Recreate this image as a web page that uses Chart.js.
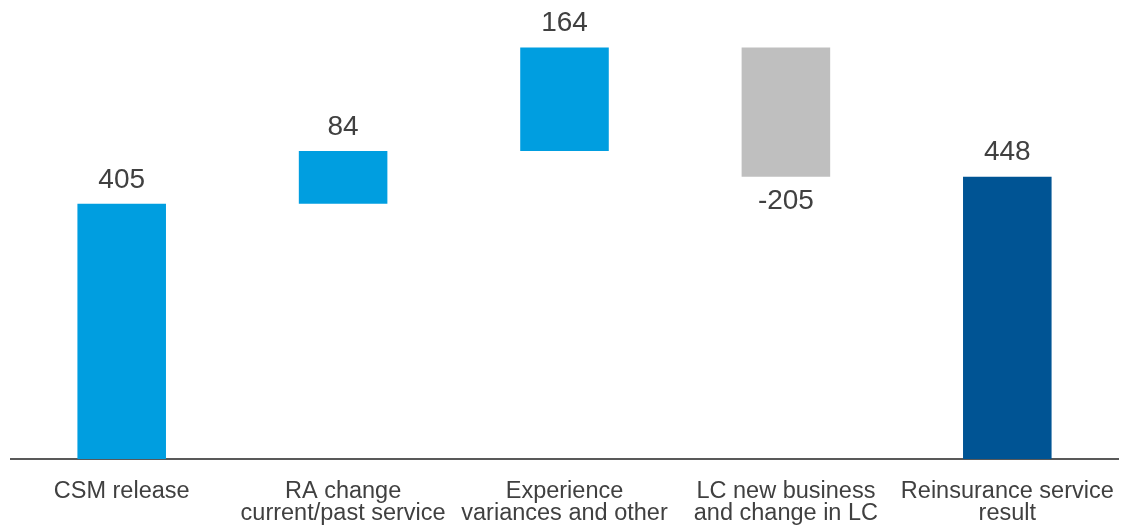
<!DOCTYPE html>
<html>
<head>
<meta charset="utf-8">
<script src="https://cdn.jsdelivr.net/npm/chart.js@4"></script>
<style>
  html, body { margin: 0; padding: 0; background: #fff; }
  #wrap { width: 1121px; height: 527px; }
</style>
</head>
<body>
<div id="wrap"><canvas id="cascada"></canvas></div>
<script>
// Waterfall: start, three movements, end result
const categorias = [
    ['CSM release'],
    ['RA change', 'current/past service'],
    ['Experience', 'variances and other'],
    ['LC new business', 'and change in LC'],
    ['Reinsurance service', 'result']
];
const movimientos = [405, 84, 164, -205, 448];
const esTotal = [true, false, false, false, true];
const colores = ['#009EE0', '#009EE0', '#009EE0', '#BFBFBF', '#005494'];

// Floating bars: totals start at zero, movements start at running sum
const tramos = [];
let acumulado = 0;
movimientos.forEach((v, i) => {
    if (esTotal[i]) {
        tramos.push([0, v]);
        acumulado = v;
    } else {
        tramos.push([acumulado, acumulado + v]);
        acumulado += v;
    }
});

// Value labels above rising bars, below falling ones
const etiquetas = {
    id: 'etiquetas',
    afterDatasetsDraw(chart) {
        const ctx = chart.ctx;
        const meta = chart.getDatasetMeta(0);
        ctx.save();
        ctx.font = '28px "Liberation Sans", Arial, sans-serif';
        ctx.fillStyle = '#404040';
        ctx.textAlign = 'center';
        meta.data.forEach((bar, i) => {
            const arriba = Math.min(bar.y, bar.base);
            const abajo = Math.max(bar.y, bar.base);
            if (movimientos[i] < 0) {
                ctx.textBaseline = 'top';
                ctx.fillText(String(movimientos[i]), bar.x, abajo + 11);
            } else {
                ctx.textBaseline = 'bottom';
                ctx.fillText(String(movimientos[i]), bar.x, arriba - 10);
            }
        });
        ctx.restore();
    }
};

const ctx = document.getElementById('cascada');
new Chart(ctx, {
    type: 'bar',
    data: {
        labels: categorias,
        datasets: [{
            data: tramos,
            backgroundColor: colores,
            borderWidth: 0,
            barPercentage: 0.4,
            categoryPercentage: 1
        }]
    },
    options: {
        responsive: true,
        maintainAspectRatio: false,
        animation: false,
        layout: {
            padding: { top: 18, left: 11, right: 3, bottom: 0 }
        },
        scales: {
            x: {
                grid: { display: false, drawTicks: false },
                border: { display: true, color: '#595959', width: 2 },
                ticks: {
                    color: '#404040',
                    font: { family: '"Liberation Sans", Arial, sans-serif', size: 23.5, lineHeight: 0.95 },
                    padding: 21,
                    maxRotation: 0,
                    autoSkip: false
                },
                // labels run past the bottom edge; keep the axis band fixed
                afterFit(scale) {
                    scale.height = 68;
                    scale.paddingLeft = 0;
                    scale.paddingRight = 0;
                }
            },
            y: {
                display: false,
                min: 0,
                max: 700
            }
        },
        plugins: {
            legend: { display: false },
            tooltip: { enabled: false }
        }
    },
    plugins: [etiquetas]
});
</script>
</body>
</html>
